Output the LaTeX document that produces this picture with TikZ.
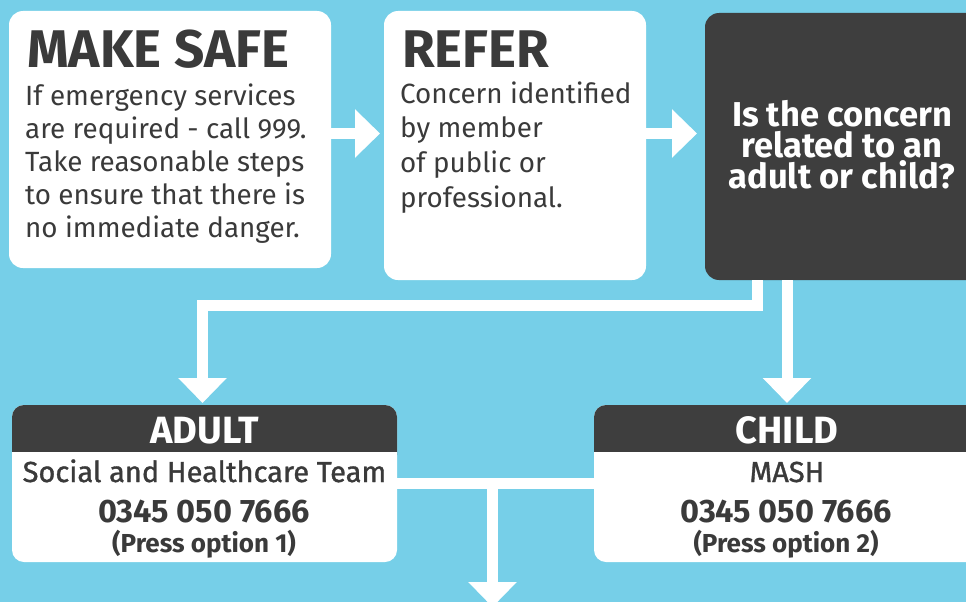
\documentclass[tikz,border=0pt]{standalone}
\usepackage{fontspec}
\setmainfont{Fira Sans}
\newfontfamily\firamed[FakeBold=1.2]{Fira Sans}
\usetikzlibrary{arrows.meta}
\definecolor{bg}{HTML}{76CFE8}
\definecolor{dk}{HTML}{3E3E3E}
\definecolor{tx}{HTML}{3A3A3A}
\begin{document}
\begin{tikzpicture}[x=1pt,y=-1pt,
  wbox/.style={fill=white, rounded corners=14pt, inner sep=0pt, outer sep=0pt, anchor=north west},
  dbox/.style={fill=dk, rounded corners=14pt, inner sep=0pt, outer sep=0pt, anchor=north west},
  arr/.style={draw=white, line width=11pt, line join=miter, -{Triangle[width=47pt,length=25pt]}},
  wline/.style={draw=white, line width=11pt},
  tl/.style={inner sep=0pt, anchor=base west, text=tx},
  tc/.style={inner sep=0pt, anchor=base, text=tx},
  titlef/.style={font=\bfseries\fontsize{53}{53}\selectfont},
  bodyf/.style={font=\fontsize{27.8}{30}\selectfont},
  qf/.style={font=\bfseries\fontsize{34.5}{31}\selectfont, text=white, align=center, inner sep=0pt},
  headf/.style={font=\bfseries\fontsize{38}{38}\selectfont, text=white},
  teamf/.style={font=\firamed\fontsize{29}{29}\selectfont},
  numf/.style={font=\bfseries\fontsize{32.5}{32.5}\selectfont},
  optf/.style={font=\bfseries\fontsize{26}{26}\selectfont}
]
\useasboundingbox (0,0) rectangle (966,602);
\fill[bg] (0,0) rectangle (966,602);

% boxes
\node[wbox, minimum width=322pt, minimum height=257pt] (ms) at (9,11) {};
\node[wbox, minimum width=262pt, minimum height=269pt] (refer) at (384,11) {};
\node[dbox, minimum width=280pt, minimum height=267pt] (q) at (705,13) {};
\node[wbox, rounded corners=12pt, minimum width=385pt, minimum height=157pt] (adult) at (12,405) {};
\node[dbox, rounded corners=12pt, minimum width=385pt, minimum height=62pt] (adulth) at (12,405) {};
\fill[white] (12,452) rectangle (397,470);
\node[wbox, rounded corners=12pt, minimum width=386pt, minimum height=157pt] (child) at (594,405) {};
\node[dbox, rounded corners=12pt, minimum width=386pt, minimum height=62pt] (childh) at (594,405) {};
\fill[white] (594,452) rectangle (980,470);

% connectors
\coordinate (ra) at (0,133.5);
\draw[arr] (ms.east |- ra) -- ([xshift=-4pt]refer.west |- ra);
\draw[arr] (refer.east |- ra) -- ([xshift=-8pt]q.west |- ra);
\coordinate (qL) at (757,280);
\draw[arr] (qL) -- ++(0,25.5) -| ([xshift=-2pt,yshift=2pt]adult.north);
\draw[arr] (q.south -| child.north) -- ([yshift=2pt]child.north);
\coordinate (hb) at (0,483.5);
\coordinate (bt) at (492.5,607);
\draw[wline] (adult.east |- hb) -- (child.west |- hb);
\draw[arr] (hb -| bt) -- (bt);

% MAKE SAFE text
\node[tl, titlef] (mst) at (27,67) {MAKE SAFE};
\node[tl, bodyf] (ms1) at (25,105) {If emergency services};
\node[tl, bodyf] (ms2) at (25,138) {are required - call 999.};
\node[tl, bodyf] (ms3) at (25,171) {Take reasonable steps};
\node[tl, bodyf] (ms4) at (25,204) {to ensure that there is};
\node[tl, bodyf] (ms5) at (25,237) {no immediate danger.};

% REFER text
\node[tl, titlef] (rft) at (402,67) {REFER};
\node[tl, bodyf] (rf1) at (400,103) {Concern identified};
\node[tl, bodyf] (rf2) at (400,137.5) {by member};
\node[tl, bodyf] (rf3) at (400,172) {of public or};
\node[tl, bodyf] (rf4) at (400,207) {professional.};

% question text
\node[qf, anchor=center] (qt) at (842,145) {Is the concern\\related to an\\adult or child?};

% ADULT text
\node[tc, headf] (at) at (204.5,443) {ADULT};
\node[tc, teamf] (a1) at (204.5,482) {Social and Healthcare Team};
\node[tc, numf] (a2) at (204,522) {0345 050 7666};
\node[tc, optf] (a3) at (204,552) {(Press option 1)};

% CHILD text
\node[tc, headf] (ct) at (787,443) {CHILD};
\node[tc, teamf] (c1) at (787,482) {MASH};
\node[tc, numf] (c2) at (786,522) {0345 050 7666};
\node[tc, optf] (c3) at (786,552) {(Press option 2)};
\end{tikzpicture}
\end{document}
